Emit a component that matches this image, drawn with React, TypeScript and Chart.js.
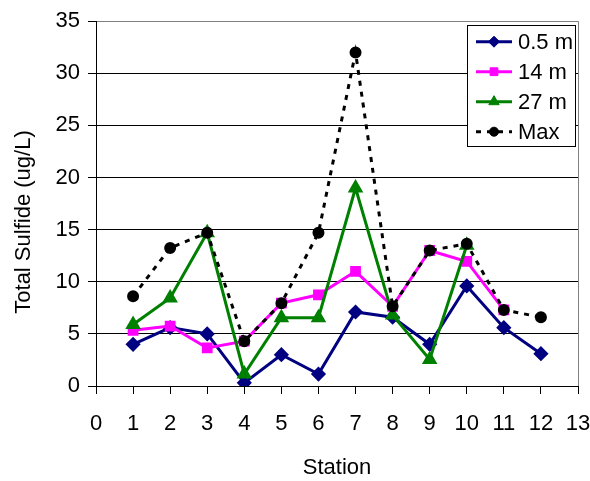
import React, { useEffect, useRef } from 'react';
import { Chart, registerables } from 'chart.js';
import * as helpers from 'chart.js/helpers';

Chart.register(...registerables);

const stations = [1, 2, 3, 4, 5, 6, 7, 8, 9, 10, 11, 12];
const seriesNames = ['0.5 m', '14 m', '27 m', 'Max'];
const sulfide05 = [4.0, 5.6, 5.0, 0.3, 3.0, 1.15, 7.1, 6.6, 4.0, 9.6, 5.6, 3.1];
const sulfide14 = [5.35, 5.75, 3.65, 4.3, 7.95, 8.75, 11.0, 7.65, 13.0, 11.95, 7.3, null];
const sulfide27 = [5.9, 8.45, 14.7, 1.15, 6.55, 6.55, 19.0, 6.8, 2.55, 13.5, null, null];
const sulfideMax = [8.6, 13.25, 14.7, 4.3, 7.95, 14.7, 32.0, 7.65, 13.0, 13.65, 7.3, 6.6];
const xAxisMin = 0;
const xAxisMax = 13;
const yAxisMin = 0;
const yAxisMax = 35;
const xTitle = 'Station';
const yTitle = 'Total Sulfide (ug/L)';

const FONT_FAMILY = "'Liberation Sans', Arial, sans-serif";
const FONT_SIZE = 22;

const toPoints = (vals: (number | null)[]) =>
  stations.map((s, i) => ({ x: s, y: vals[i] }));

const overlayPlugin = {
  id: 'overlay',
  afterDraw(chart: any) {
    const ctx = chart.ctx as CanvasRenderingContext2D;
    // y axis title
    ctx.save();
    ctx.fillStyle = '#000';
    ctx.font = `${FONT_SIZE}px ${FONT_FAMILY}`;
    ctx.translate(23.5, 222);
    ctx.rotate(-Math.PI / 2);
    ctx.textAlign = 'center';
    ctx.textBaseline = 'middle';
    ctx.fillText(yTitle, 0, 0);
    ctx.restore();

    // legend box
    const bx = 467.5, by = 25.5, bw = 108, bh = 121;
    ctx.save();
    ctx.fillStyle = '#fff';
    ctx.fillRect(bx, by, bw, bh);
    ctx.strokeStyle = '#000';
    ctx.lineWidth = 1;
    ctx.strokeRect(bx, by, bw, bh);
    chart.data.datasets.forEach((ds: any, i: number) => {
      const cy = 41.7 + 30 * i;
      ctx.save();
      ctx.strokeStyle = ds.borderColor;
      ctx.lineWidth = ds.borderWidth;
      ctx.setLineDash(ds.borderDash || []);
      ctx.beginPath();
      ctx.moveTo(476, cy);
      ctx.lineTo(512, cy);
      ctx.stroke();
      ctx.restore();
      ctx.save();
      ctx.fillStyle = ds.pointBackgroundColor;
      ctx.strokeStyle = ds.pointBorderColor;
      ctx.lineWidth = 1;
      helpers.drawPoint(ctx, { pointStyle: ds.pointStyle, radius: ds.pointRadius, rotation: 0, borderWidth: 1 } as any, 494, cy);
      ctx.restore();
      ctx.fillStyle = '#000';
      ctx.font = `${FONT_SIZE}px ${FONT_FAMILY}`;
      ctx.textAlign = 'left';
      ctx.textBaseline = 'middle';
      ctx.fillText(seriesNames[i], 518, cy + 1);
    });
    ctx.restore();
  },
};

export default function App() {
  const ref = useRef<HTMLCanvasElement>(null);
  useEffect(() => {
    const font = { family: FONT_FAMILY, size: FONT_SIZE };
    const chart = new Chart(ref.current as HTMLCanvasElement, {
      type: 'line',
      data: {
        datasets: [
          {
            label: seriesNames[0],
            data: toPoints(sulfide05),
            borderColor: '#000080',
            backgroundColor: '#000080',
            pointBackgroundColor: '#000080',
            pointBorderColor: '#000080',
            borderWidth: 3,
            pointStyle: 'rectRot',
            pointRadius: 5.5,
            order: 4,
          },
          {
            label: seriesNames[1],
            data: toPoints(sulfide14),
            borderColor: '#FF00FF',
            backgroundColor: '#FF00FF',
            pointBackgroundColor: '#FF00FF',
            pointBorderColor: '#FF00FF',
            borderWidth: 3,
            pointStyle: 'rect',
            pointRadius: 5.5,
            order: 3,
          },
          {
            label: seriesNames[2],
            data: toPoints(sulfide27),
            borderColor: '#008000',
            backgroundColor: '#008000',
            pointBackgroundColor: '#008000',
            pointBorderColor: '#008000',
            borderWidth: 3,
            pointStyle: 'triangle',
            pointRadius: 6,
            order: 2,
          },
          {
            label: seriesNames[3],
            data: toPoints(sulfideMax),
            borderColor: '#000000',
            backgroundColor: '#000000',
            pointBackgroundColor: '#000000',
            pointBorderColor: '#000000',
            borderWidth: 3,
            borderDash: [5, 6],
            pointStyle: 'circle',
            pointRadius: 4.5,
            order: 1,
          },
        ] as any,
      },
      options: {
        responsive: false,
        animation: false,
        layout: { padding: { top: 20, right: 0, left: 0, bottom: 0 } },
        plugins: { legend: { display: false }, tooltip: { enabled: false } },
        elements: { line: { tension: 0 } },
        scales: {
          x: {
            type: 'linear',
            min: xAxisMin,
            max: xAxisMax,
            ticks: { stepSize: 1, color: '#000', font, padding: 17, maxRotation: 0, autoSkip: false },
            grid: {
              drawOnChartArea: true,
              color: (c: any) => (c.tick && c.tick.value === xAxisMax ? '#808080' : 'rgba(0,0,0,0)'),
              tickColor: '#000',
              tickLength: 8,
            },
            border: { color: '#000' },
            title: { display: true, text: xTitle, color: '#000', font, padding: { top: 0, bottom: 0 } },
            afterFit: (s: any) => {
              s.height = 95;
              s.paddingRight = 12;
            },
          },
          y: {
            min: yAxisMin,
            max: yAxisMax,
            ticks: { stepSize: 5, color: '#000', font, padding: 8 },
            grid: {
              color: (c: any) => (c.tick && c.tick.value === yAxisMax ? '#808080' : '#000'),
              tickColor: '#000',
              tickLength: 8,
            },
            border: { color: '#000' },
            afterFit: (s: any) => {
              s.width = 96;
            },
          },
        },
      } as any,
      plugins: [overlayPlugin],
    });
    return () => chart.destroy();
  }, []);
  return (
    <div style={{ position: 'fixed', left: 0, top: 0, width: 590, height: 481, background: '#fff' }}>
      <canvas ref={ref} width={590} height={481} style={{ display: 'block' }} />
    </div>
  );
}
